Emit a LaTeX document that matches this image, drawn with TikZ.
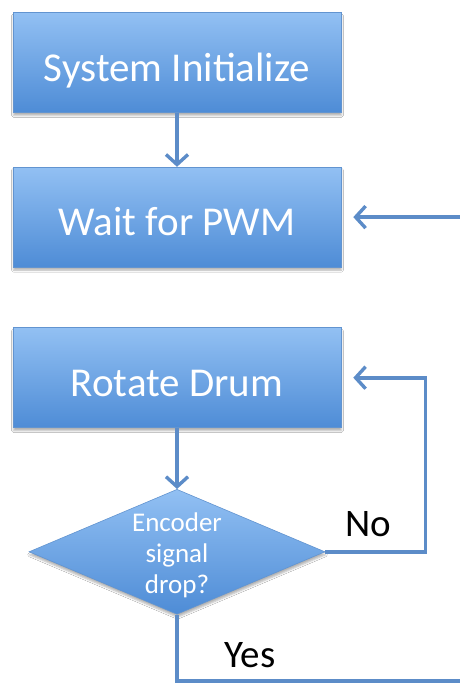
\documentclass[tikz,border=0pt]{standalone}
\usepackage{fontspec}
\setmainfont{Carlito}
\usepackage{tikz}
\usetikzlibrary{arrows.meta,positioning,shapes.geometric,shadows.blur}
\definecolor{boxtop}{RGB}{146,192,243}
\definecolor{boxbot}{RGB}{78,140,214}
\definecolor{boxline}{RGB}{98,148,208}
\definecolor{arrowblue}{RGB}{92,140,200}

\tikzset{
  stepbox/.style={draw=boxline,line width=0.6pt,top color=boxtop,bottom color=boxbot,
    minimum width=328pt,minimum height=100pt,text=white,
    font=\fontsize{41}{46}\selectfont,text height=37pt,text depth=0pt,
    blur shadow={shadow xshift=0.5pt,shadow yshift=-3pt,shadow opacity=30}},
  decision/.style={diamond,draw=boxline,line width=0.6pt,top color=boxtop,bottom color=boxbot,
    minimum width=296pt,minimum height=125pt,inner sep=0pt,
    blur shadow={shadow xshift=0.5pt,shadow yshift=-3pt,shadow opacity=30}},
  flow/.style={draw=arrowblue,line width=3.6pt,
    -{Straight Barb[length=10pt,width=22pt,line width=3.4pt]}},
  answer/.style={font=\fontsize{39}{44}\selectfont,inner sep=0pt}
}

\begin{document}
\begin{tikzpicture}[x=1pt,y=-1pt]
\useasboundingbox[fill=white] (0,0) rectangle (459,683);

% main steps
\node[stepbox] (init) at (177,62.5) {System Initialize};
\node[stepbox,below=54pt of init] (wait) {Wait for PWM};
\node[stepbox,below=60pt of wait] (rot) {Rotate Drum};
\node[decision,below=61pt of rot] (enc) {};
\node[text=white,align=center,font=\fontsize{27}{31}\selectfont,inner sep=0pt] (enctext) at ([yshift=-3pt]enc.center) {Encoder\\signal\\drop?};

% straight arrows
\draw[flow] (init) -- (wait);
\draw[flow] (rot) -- (enc);

% loops back
\draw[flow,shorten >=12pt] (enc.east) -- ++(100,0) |- (rot.east);
\coordinate (outside) at (480,681);
\draw[flow,shorten >=12pt] (enc.south) |- (outside) |- (wait.east);

\node[answer] (no) at (368,524.5) {No};
\node[answer] (yes) at (250,655) {Yes};
\end{tikzpicture}
\end{document}
